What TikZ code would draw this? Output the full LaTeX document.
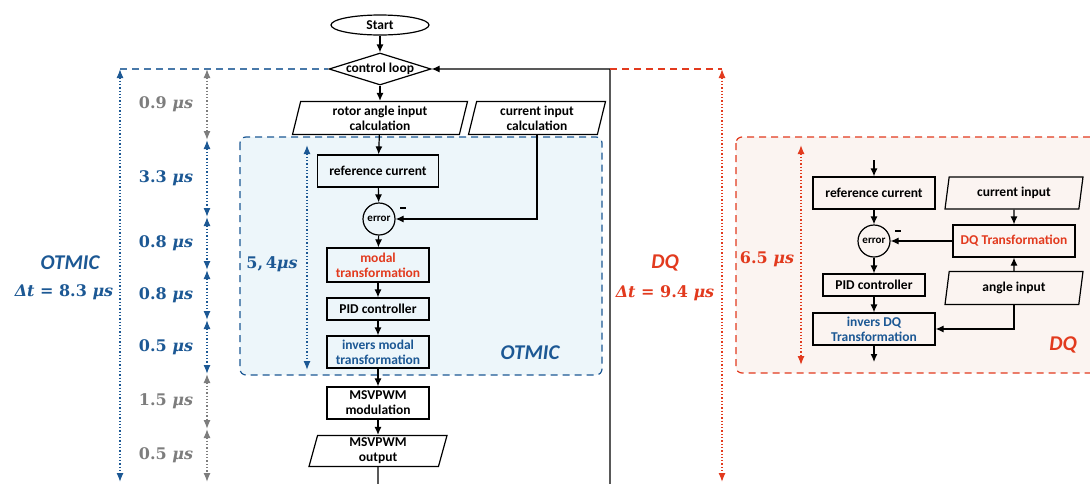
\documentclass[tikz,border=0pt]{standalone}
\usepackage{amsmath, amssymb}
\usepackage[no-math]{fontspec}
\setmainfont{Carlito}
\newfontfamily\timefont{DejaVu Serif}
\usetikzlibrary{shapes.geometric, arrows.meta, positioning}
\definecolor{otBlue}{RGB}{28,88,148}
\definecolor{dqRojo}{RGB}{226,58,30}
\definecolor{tGris}{RGB}{125,125,125}
\definecolor{otFondo}{RGB}{237,246,250}
\definecolor{dqFondo}{RGB}{251,244,241}

\tikzset{
  box/.style={draw, line width=1.2pt, rectangle, minimum width=102pt, minimum height=32pt,
    inner sep=1pt, align=center, font=\bfseries\fontsize{13.5}{15}\selectfont},
  iobox/.style={draw, line width=1.2pt, trapezium, trapezium left angle=73, trapezium right angle=107,
    trapezium stretches body, minimum height=33pt, inner sep=1pt, align=center,
    font=\bfseries\fontsize{13.5}{15}\selectfont},
  errnode/.style={draw, line width=1.2pt, circle, minimum size=32pt, inner sep=0pt,
    font=\bfseries\fontsize{11}{12}\selectfont},
  flow/.style={line width=1.2pt, -{Latex[length=8pt,width=7pt]}},
  span/.style={line width=1.3pt, dotted, {Latex[length=9pt,width=7pt]}-{Latex[length=9pt,width=7pt]}},
  tlabel/.style={font=\timefont\bfseries\fontsize{16}{19}\selectfont},
  bigtag/.style={font=\bfseries\itshape\fontsize{21}{24}\selectfont},
  minus/.style={fill=black, minimum width=6pt, minimum height=2.2pt, inner sep=0pt},
}

\begin{document}
\begin{tikzpicture}[x=1pt, y=-1pt]
    \clip (0,0) rectangle (1090,483);
    % panels
    \draw[otBlue, line width=1.2pt, dash pattern=on 7pt off 5pt, rounded corners=6pt, fill=otFondo]
        (240,137) rectangle (602,375);
    \draw[dqRojo, line width=1.2pt, dash pattern=on 7pt off 5pt, rounded corners=6pt, fill=dqFondo]
        (736,137) rectangle (1110,373);

    % OTMIC flowchart
    \node[draw, line width=1.2pt, ellipse, minimum width=98pt, minimum height=20pt, inner sep=0pt,
        font=\bfseries\fontsize{13.5}{15}\selectfont] (start) at (380,25) {Start};
    \node[draw, line width=1.2pt, diamond, minimum width=102pt, minimum height=32pt, inner sep=0pt,
        label={[font=\bfseries\fontsize{13.5}{15}\selectfont]center:control loop}] (loop) at (380,69) {};
    \node[iobox, minimum width=175pt] (rotor) at (380,118) {rotor angle input\\calculation};
    \node[iobox, minimum width=137pt] (curcalc) at (537,118) {current input\\calculation};
    \node[box, minimum width=121pt] (refcur) at (378,171) {reference current};
    \node[errnode] (err) at (379,219) {error};
    \node[minus] (minA) at (403,208) {};
    \node[box, minimum height=34pt, text=dqRojo] (modal) at (378,265) {modal\\transformation};
    \node[box, minimum height=22pt] (pid) at (378,309) {PID controller};
    \node[box, text=otBlue] (invmodal) at (378,352) {invers modal\\transformation};
    \node[box] (modul) at (378,403) {MSVPWM\\modulation};
    \node[iobox, minimum width=138pt, minimum height=31pt] (outp) at (378,451) {MSVPWM\\output};
    \coordinate (loopB) at (378,495);
    \coordinate (loopR) at (610,495);

    \draw[flow] (start) -- (loop);
    \draw[flow] (loop) -- (rotor);
    \draw[flow] (rotor) -- (refcur);
    \draw[flow] (refcur) -- (err);
    \draw[flow] (curcalc.south) |- (err.east);
    \draw[flow] (err) -- (modal);
    \draw[flow] (modal) -- (pid);
    \draw[flow] (pid) -- (invmodal);
    \draw[flow] (invmodal) -- (modul);
    \draw[flow] (modul) -- (outp);
    \draw[flow] (outp.south) -- (loopB) -- (loopR) |- (loop.east);

    % time spans, left
    \coordinate (oTop) at (120,69);
    \coordinate (oBot) at (120,482);
    \draw[otBlue!80, line width=1.1pt, dash pattern=on 7pt off 5pt] (oTop) -- (loop.west);
    \draw[span, otBlue] (oTop) -- (oBot);
    \node[bigtag, text=otBlue] (otName) at (70,263) {OTMIC};
    \node[tlabel, text=otBlue] (otTime) at (64,292) {\textit{Δt} = 8.3 \textit{μs}};

    \foreach \ya/\yb/\col/\val/\name in {69/140/tGris/0.9/sA, 140/217/otBlue/3.3/sB, 217/270/otBlue/0.8/sC,
        270/320/otBlue/0.8/sD, 320/374/otBlue/0.5/sE, 374/429/tGris/1.5/sF, 429/482/tGris/0.5/sG} {
      \coordinate (\name a) at (207,\ya);
      \coordinate (\name b) at (207,\yb);
      \draw[span, \col] (\name a) -- (\name b);
      \node[tlabel, text=\col] (\name t) at (166,{(\ya+\yb)/2}) {\val{} \textit{μs}};
    }

    \coordinate (fTop) at (307,145);
    \coordinate (fBot) at (307,370);
    \draw[span, otBlue] (fTop) -- (fBot);
    \node[tlabel, text=otBlue] (fTime) at (272,264) {5,\,4\textit{μs}};
    \node[bigtag, text=otBlue] (otTag) at (530,353) {OTMIC};

    % time spans, right
    \coordinate (dTop) at (722,69);
    \coordinate (dBot) at (722,482);
    \draw[dqRojo, line width=1.1pt, dash pattern=on 7pt off 5pt] (610,69) -- (dTop);
    \draw[span, dqRojo] (dTop) -- (dBot);
    \node[bigtag, text=dqRojo] (dqName) at (665,263) {DQ};
    \node[tlabel, text=dqRojo] (dqTime) at (665,293) {\textit{Δt} = 9.4 \textit{μs}};
    \coordinate (gTop) at (801,145);
    \coordinate (gBot) at (801,365);
    \draw[span, dqRojo] (gTop) -- (gBot);
    \node[tlabel, text=dqRojo] (gTime) at (767,259) {6.5 \textit{μs}};

    % DQ flowchart
    \coordinate (dqIn) at (874,160);
    \coordinate (dqOut) at (874,362);
    \node[box, minimum width=122pt] (refcurB) at (874,193) {reference current};
    \node[errnode] (errB) at (874,241) {error};
    \node[minus] (minB) at (898,231) {};
    \node[box, minimum height=22pt] (pidB) at (874,285) {PID controller};
    \node[box, minimum width=122pt, text=otBlue] (invdq) at (874,329) {invers DQ\\Transformation};
    \node[iobox, minimum width=138pt, minimum height=32pt] (curin) at (1014,193) {current input};
    \node[box, minimum width=122pt, text=dqRojo] (dqtr) at (1014,241) {DQ Transformation};
    \node[iobox, minimum width=138pt, minimum height=33pt] (angin) at (1014,288) {angle input};
    \node[bigtag, text=dqRojo] (dqTag) at (1063,345) {DQ};

    \draw[flow] (dqIn) -- (refcurB);
    \draw[flow] (refcurB) -- (errB);
    \draw[flow] (errB) -- (pidB);
    \draw[flow] (pidB) -- (invdq);
    \draw[flow] (invdq) -- (dqOut);
    \draw[flow] (curin) -- (dqtr);
    \draw[flow] (angin) -- (dqtr);
    \draw[flow] (dqtr) -- (errB);
    \draw[flow] (angin.south) |- (invdq.east);
\end{tikzpicture}
\end{document}
